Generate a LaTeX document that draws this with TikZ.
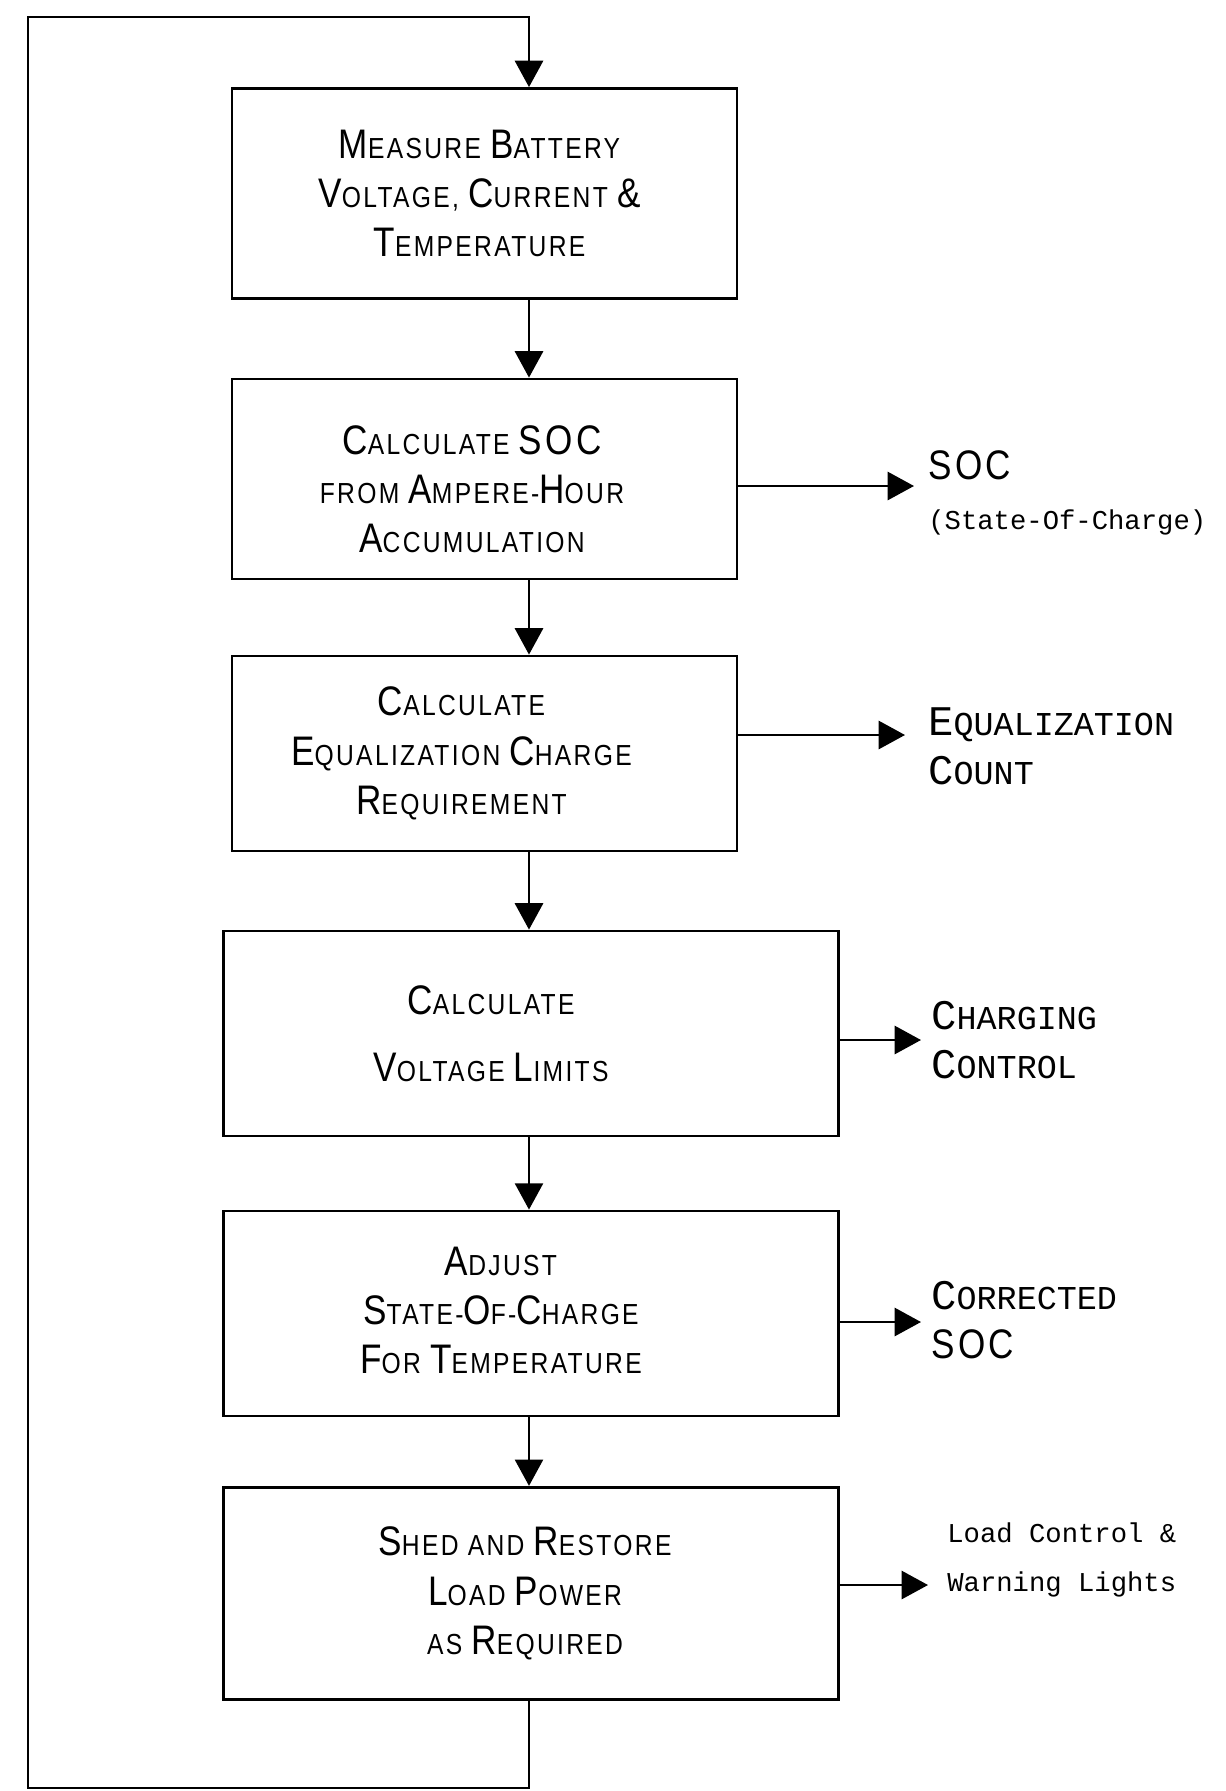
\documentclass[tikz,border=0pt]{standalone}
\usepackage{fontspec}
\setmainfont{Liberation Sans}
\newfontfamily\boxfont[FakeStretch=0.85,LetterSpace=8]{Liberation Sans}
\newfontfamily\monofont{Liberation Mono}
\usepackage{tikz}
\usetikzlibrary{arrows.meta}
\newcommand{\Cap}[1]{{\fontsize{23.5}{28}\selectfont #1}}
\newcommand{\MCap}[1]{{\fontsize{24}{28}\selectfont #1}}
\tikzstyle{process} = [rectangle, 
minimum width=10.1cm, 
minimum height=4.1cm, 
draw=black, line width=1.6pt]
\tikzstyle{boxtext} = [align=center, inner sep=0pt, 
font={\boxfont\fontsize{16.5}{28}\selectfont}]
\tikzstyle{outlabel} = [anchor=west, inner sep=0pt, align=left, 
font={\monofont\fontsize{19}{28}\selectfont}]
\tikzstyle{arrow} = [line width=1.4pt, -{Triangle[length=15pt,width=16pt]}]

\begin{document}
\begin{tikzpicture}[node distance=5.6cm]
\useasboundingbox (0,0) rectangle (24.52,-35.82);
\coordinate (spine) at (10.58,0);

\node (meas) [process, minimum height=4.2cm] at (9.69,-3.87) {};
\node (socb) [process, below of=meas, yshift=-0.11cm, minimum height=4cm] {};
\node (equ) [process, below of=socb, yshift=0.11cm, minimum height=3.9cm] {};
\node (volt) [process, below of=equ, xshift=0.93cm, minimum width=12.3cm] {};
\node (adj) [process, below of=volt, minimum width=12.3cm] {};
\node (shed) [process, below of=adj, minimum width=12.3cm, minimum height=4.25cm] {};

% box texts, a little left of centre as in the original
\node (meast) [boxtext, xshift=-0.1cm] at (meas) {\Cap{M}EASURE \Cap{B}ATTERY\\ \Cap{V}OLTAGE, \Cap{C}URRENT \Cap{\&}\\ \Cap{T}EMPERATURE};
\node (socbt) [boxtext, xshift=-0.25cm, yshift=-0.2cm] at (socb) {\Cap{C}ALCULATE \Cap{SOC}\\ FROM \Cap{A}MPERE-\Cap{H}OUR\\ \Cap{A}CCUMULATION};
\node (equt) [boxtext, xshift=-0.46cm] at (equ) {\Cap{C}ALCULATE\\ \Cap{E}QUALIZATION \Cap{C}HARGE\\ \Cap{R}EQUIREMENT};
\node (voltt) [boxtext, xshift=-0.8cm] at (volt) {\Cap{C}ALCULATE\\[10pt] \Cap{V}OLTAGE \Cap{L}IMITS};
\node (adjt) [boxtext, xshift=-0.6cm, yshift=0.06cm] at (adj) {\Cap{A}DJUST\\ \Cap{S}TATE-\Cap{O}F-\Cap{C}HARGE\\ \Cap{F}OR \Cap{T}EMPERATURE};
\node (shedt) [boxtext, xshift=-0.12cm] at (shed) {\Cap{S}HED AND \Cap{R}ESTORE\\ \Cap{L}OAD \Cap{P}OWER\\ AS \Cap{R}EQUIRED};

\draw[arrow] (meas.south -| spine) -- (socb.north -| spine);
\draw[arrow] (socb.south -| spine) -- (equ.north -| spine);
\draw[arrow] (equ.south -| spine) -- (volt.north -| spine);
\draw[arrow] (volt.south -| spine) -- (adj.north -| spine);
\draw[arrow] (adj.south -| spine) -- (shed.north -| spine);

% loop back to the top
\coordinate (loopbot) at (0,-35.76);
\coordinate (looptop) at (0.56,-0.34);
\draw[arrow] (shed.south -| spine) -- (spine |- loopbot) -| (looptop) -| (meas.north -| spine);

% outputs
\coordinate (tip2) at (18.28,-9.72);
\coordinate (tip3) at (18.1,-14.7);
\coordinate (tip4) at (18.42,-20.8);
\coordinate (tip5) at (18.42,-26.44);
\coordinate (tip6) at (18.56,-31.7);
\node (out2) [outlabel] at (18.56,-9.86) {{\boxfont\Cap{SOC}}\\ {\fontsize{15.5}{26}\selectfont (State-Of-Charge)}};
\node (out3) [outlabel] at (18.56,-14.92) {\MCap{E}QUALIZATION\\ \MCap{C}OUNT};
\node (out4) [outlabel] at (18.62,-20.8) {\MCap{C}HARGING\\ \MCap{C}ONTROL};
\node (out5) [outlabel] at (18.62,-26.4) {\MCap{C}ORRECTED\\ {\boxfont\Cap{SOC}}};
\node (out6) [outlabel, font={\monofont\fontsize{15.5}{28}\selectfont}] at (18.94,-31.2) {Load Control \&\\ Warning Lights};
\draw[arrow] (socb.east |- tip2) -- (tip2);
\draw[arrow] (equ.east |- tip3) -- (tip3);
\draw[arrow] (volt.east |- tip4) -- (tip4);
\draw[arrow] (adj.east |- tip5) -- (tip5);
\draw[arrow] (shed.east |- tip6) -- (tip6);

\end{tikzpicture}
\end{document}
